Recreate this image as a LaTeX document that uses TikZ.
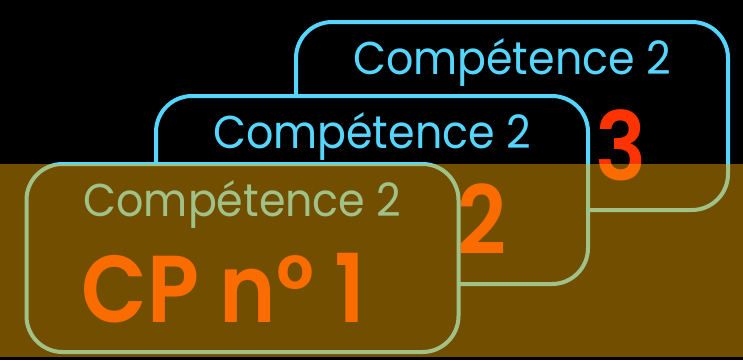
\documentclass[tikz,border=0pt]{standalone}
\usepackage{fontspec}
\setmainfont{Poppins}
\newfontfamily\titrefont{Poppins}[FakeStretch=0.93]
\newfontfamily\cpfont{Poppins SemiBold}[FakeStretch=0.9]
\usetikzlibrary{calc}
\definecolor{cyanline}{RGB}{85,214,255}
\definecolor{redcp}{RGB}{255,51,0}
\definecolor{veil}{RGB}{246,171,0}

\begin{document}
\begin{tikzpicture}[x=1pt,y=-1pt,
    carte/.style={draw=cyanline,line width=4pt,fill=black,rounded corners=36pt,
      minimum width=432pt,minimum height=188pt,inner sep=0pt,outer sep=0pt},
    titre/.style={text=cyanline,font=\fontsize{46}{46}\titrefont,anchor=base,inner sep=0pt},
    numero/.style={text=redcp,font=\fontsize{95}{95}\cpfont,anchor=base,inner sep=0pt}]
  \useasboundingbox (0,0) rectangle (743,360);
  \fill[black] (0,0) rectangle (743,360);
  \begin{scope}
    \node[carte] (b3) at (512,116) {};
    \node[titre] (t3) at ($(b3.north)+(0,52)$) {Compétence 2};
    \node[numero] (n3) at ($(b3.north)+(109,158)$) {3};
  \end{scope}
  \begin{scope}
    \node[carte] (b2) at (372,190) {};
    \node[titre] (t2) at ($(b2.north)+(0,52)$) {Compétence 2};
    \node[numero] (n2) at ($(b2.north)+(110.5,158)$) {2};
  \end{scope}
  \begin{scope}
    \node[carte] (b1) at (242.5,258) {};
    \node[titre] (t1) at ($(b1.north)+(0,52)$) {Compétence 2};
    \node[numero] (n1) at ($(b1.north)+(-19,158)$) {CP n° 1};
  \end{scope}
  \fill[veil,opacity=0.467] (0,163.5) rectangle (743,357);
\end{tikzpicture}
\end{document}
